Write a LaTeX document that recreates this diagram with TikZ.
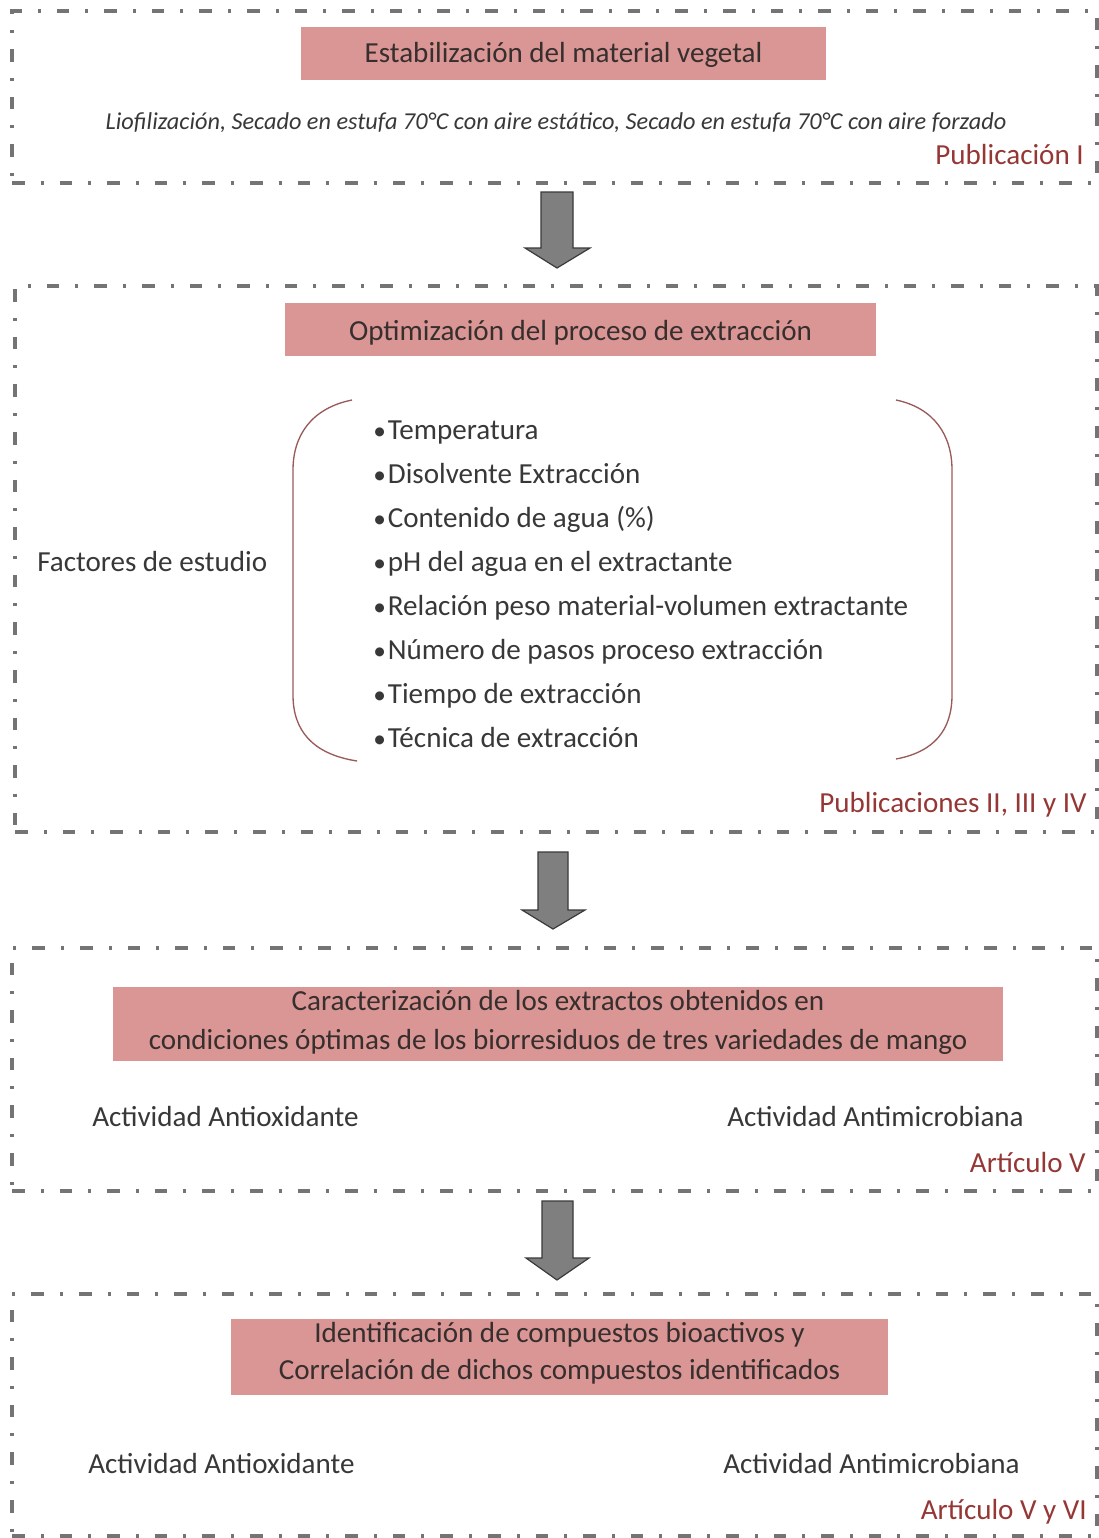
\documentclass[tikz,border=0pt]{standalone}
\usepackage{fontspec}
\setmainfont{Carlito}
\usetikzlibrary{fit}
\definecolor{boxgray}{HTML}{747474}
\definecolor{titlefill}{HTML}{D99694}
\definecolor{txt}{HTML}{383838}
\definecolor{ttxt}{HTML}{372E2E}
\definecolor{pubred}{HTML}{953735}
\definecolor{brk}{HTML}{9A5A5A}
\definecolor{arrfill}{HTML}{7F7F7F}
\definecolor{arredge}{HTML}{3A3A3A}
\newcommand{\bul}{{\fontsize{19}{19}\selectfont•}\hspace{1.5pt}}
\tikzset{
  frame/.style={draw=boxgray, line width=2.5pt, dash pattern=on 9.5pt off 12pt on 2.2pt off 12pt, inner sep=0pt},
  titlebox/.style={fill=titlefill, draw=none, inner sep=0pt},
  tx/.style={text=txt, font=\fontsize{21.8}{26}\selectfont, inner sep=0pt},
  ttx/.style={text=ttxt, font=\fontsize{21.8}{26}\selectfont, inner sep=0pt, anchor=base},
  itx/.style={text=txt, font=\fontsize{18.2}{22}\selectfont\itshape, inner sep=0pt, anchor=base},
  pub/.style={text=pubred, font=\fontsize{21.8}{26}\selectfont, inner sep=0pt, anchor=base east},
  item/.style={tx, anchor=base west},
  brace/.style={draw=brk, line width=1pt},
  blockarrow/.style={fill=arrfill, draw=arredge, line width=0.9pt, line join=miter}
}
\begin{document}
\begin{tikzpicture}[x=0.75pt,y=-0.75pt]
\useasboundingbox (0,0) rectangle (1099,1538);
\fill[white] (0,0) rectangle (1099,1538);

% frames
\node[frame, fit={(12,11) (1097,183)}] (f1) {};
\node[frame, fit={(15,286) (1097,832)}] (f2) {};
\node[frame, fit={(12,948) (1097,1191)}] (f3) {};
\node[frame, fit={(12,1294) (1097,1536)}] (f4) {};

% block 1
\node[titlebox, fit={(301,27) (826,80)}] (t1) {};
\node[ttx] (t1a) at (563.5,63) {Estabilización del material vegetal};
\node[itx] (s1) at (556,129) {Liofilización, Secado en estufa 70°C con aire estático, Secado en estufa 70°C con aire forzado};
\node[pub] (p1) at (1084,164) {Publicación I};

% arrow 1
\draw[blockarrow] (541,192) -- (573,192) -- (573,248) -- (590,248) -- (557,268) -- (525,248) -- (541,248) -- cycle;

% block 2
\node[titlebox, fit={(285,303) (876,356)}] (t2) {};
\node[ttx] (t2a) at (580.5,340) {Optimización del proceso de extracción};
\node[tx, anchor=base west] (fac) at (37,571) {Factores de estudio};
\draw[brace] (352,400) .. controls (312,408) and (293,435) .. (293,470) -- (293,695) .. controls (293,730) and (312,754) .. (357,761);
\draw[brace] (896,400) .. controls (934,408) and (952,435) .. (952,470) -- (952,695) .. controls (952,730) and (934,752) .. (896,759);
\node[item] (i1) at (373,439) {\bul Temperatura};
\node[item] (i2) at (373,483) {\bul Disolvente Extracción};
\node[item] (i3) at (373,527) {\bul Contenido de agua (\%)};
\node[item] (i4) at (373,571) {\bul pH del agua en el extractante};
\node[item] (i5) at (373,615) {\bul Relación peso material-volumen extractante};
\node[item] (i6) at (373,659) {\bul Número de pasos proceso extracción};
\node[item] (i7) at (373,703) {\bul Tiempo de extracción};
\node[item] (i8) at (373,747) {\bul Técnica de extracción};
\node[pub] (p2) at (1087,812) {Publicaciones II, III y IV};

% arrow 2
\draw[blockarrow] (538,852) -- (568,852) -- (568,910) -- (585,910) -- (553,929) -- (522,910) -- (538,910) -- cycle;

% block 3
\node[titlebox, fit={(113,987) (1003,1061)}] (t3) {};
\node[ttx] (t3a) at (558,1010) {Caracterización de los extractos obtenidos en};
\node[ttx] (t3b) at (558,1049) {condiciones óptimas de los biorresiduos de tres variedades de mango};
\node[tx, anchor=base west] (a3) at (92,1126) {Actividad Antioxidante};
\node[tx, anchor=base west] (m3) at (727,1126) {Actividad Antimicrobiana};
\node[pub] (p3) at (1086,1172) {Artículo V};

% arrow 3
\draw[blockarrow] (542,1201) -- (573,1201) -- (573,1258) -- (589,1258) -- (557,1280) -- (526,1258) -- (542,1258) -- cycle;

% block 4
\node[titlebox, fit={(231,1319) (888,1395)}] (t4) {};
\node[ttx] (t4a) at (559.5,1342) {Identificación de compuestos bioactivos y};
\node[ttx] (t4b) at (559.5,1379) {Correlación de dichos compuestos identificados};
\node[tx, anchor=base west] (a4) at (88,1473) {Actividad Antioxidante};
\node[tx, anchor=base west] (m4) at (723,1473) {Actividad Antimicrobiana};
\node[pub] (p4) at (1087,1519) {Artículo V y VI};
\end{tikzpicture}
\end{document}
